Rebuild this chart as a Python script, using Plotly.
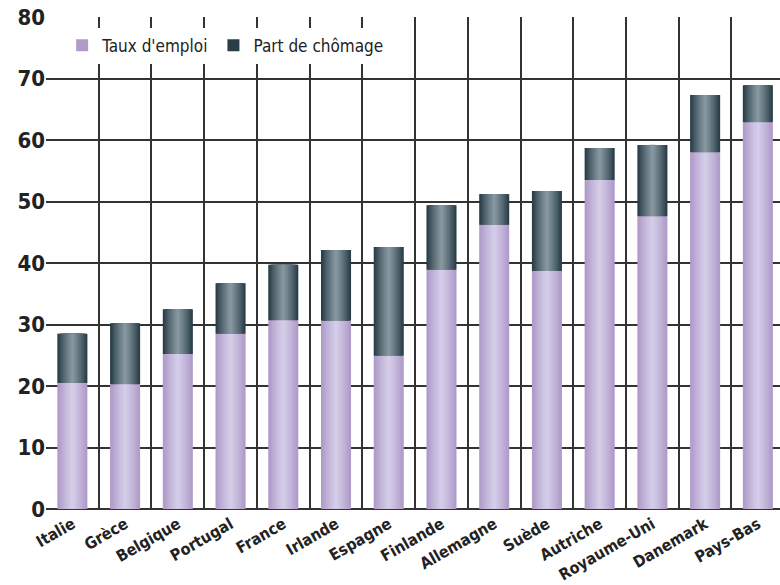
import plotly.graph_objects as go

pays = ["Italie", "Grèce", "Belgique", "Portugal", "France", "Irlande", "Espagne",
        "Finlande", "Allemagne", "Suède", "Autriche", "Royaume-Uni", "Danemark", "Pays-Bas"]
taux_emploi = [20.5, 20.3, 25.2, 28.5, 30.7, 30.6, 24.9, 38.9, 46.2, 38.7, 53.5, 47.6, 58.0, 62.9]
total = [28.5, 30.2, 32.5, 36.7, 39.7, 42.1, 42.6, 49.4, 51.2, 51.7, 58.7, 59.2, 67.3, 68.9]
part_chomage = [round(t - e, 1) for t, e in zip(total, taux_emploi)]
y_ticks = [0, 10, 20, 30, 40, 50, 60, 70, 80]

x = list(range(len(pays)))
FONT = "DejaVu Sans Condensed"


def mix(c1, c2, t):
    a = [int(c1[i:i + 2], 16) for i in (1, 3, 5)]
    b = [int(c2[i:i + 2], 16) for i in (1, 3, 5)]
    return "#" + "".join(f"{round(p + (q - p) * t):02x}" for p, q in zip(a, b))


N = 12
widths = [0.57 - (0.57 - 0.04) * k / (N - 1) for k in range(N)]
purple_cols = [mix("#ac96c6", "#d4cde8", (k / (N - 1)) ** 0.8) for k in range(N)]
dark_cols = [mix("#223842", "#8797a0", (k / (N - 1)) ** 0.8) for k in range(N)]

fig = go.Figure()
for i, (w, pc, dc) in enumerate(zip(widths, purple_cols, dark_cols)):
    fig.add_trace(go.Bar(
        x=x, y=taux_emploi, width=w,
        marker=dict(color=pc if i else "#b09bc9", line=dict(width=0)),
        name="Taux d'emploi", showlegend=(i == 0), legendrank=1,
        hoverinfo="skip" if i else None))
    fig.add_trace(go.Bar(
        x=x, y=part_chomage, base=taux_emploi, width=w,
        marker=dict(color=dc if i else "#2a3d46", line=dict(width=0)),
        name="Part de chômage", showlegend=(i == 0), legendrank=2,
        hoverinfo="skip" if i else None))

fig.update_layout(
    width=780, height=585,
    margin=dict(l=46, r=0, t=17, b=76),
    barmode="overlay",
    plot_bgcolor="white", paper_bgcolor="white",
    showlegend=True,
    legend=dict(orientation="h", x=0.022, y=0.978, xanchor="left", yanchor="top",
                bgcolor="white", font=dict(family=FONT, size=17, color="#222"),
                traceorder="normal", tracegroupgap=0),
    xaxis=dict(range=[-0.5, 13.42], tickmode="array", tickvals=x, ticktext=pays,
               tickangle=-30, showgrid=False, zeroline=False, ticks="",
               ticklabelstandoff=2, automargin=False,
               tickfont=dict(family=FONT, size=16, color="#222", weight="bold"),
               showline=False,
               minor=dict(tick0=0.5, dtick=1, showgrid=True, gridcolor="#333333",
                          gridwidth=2, ticks="")),
    yaxis=dict(range=[0, 80], tickmode="array", tickvals=y_ticks, showgrid=True,
               gridcolor="#333333", gridwidth=2, zeroline=True, zerolinecolor="#333333",
               zerolinewidth=2, showline=False, ticks="", automargin=False,
               tickfont=dict(family=FONT, size=22, color="#222", weight="bold")),
)
fig.write_html("out.html")
